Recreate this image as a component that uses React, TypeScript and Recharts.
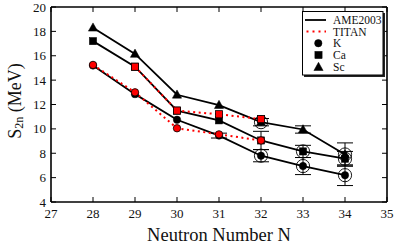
import React from "react";
import { ComposedChart, Line, XAxis, YAxis, ErrorBar, Legend } from "recharts";

// ---- data ----
const neutronNumbers = [28, 29, 30, 31, 32, 33, 34];
const ameK = [15.2, 12.85, 10.75, 9.45, 7.8, 6.95, 6.2];
const ameKErr = [0, 0, 0, 0.2, 0.5, 0.7, 0.85];
const ameKExtrapolated = [false, false, false, false, true, true, true];
const ameCa = [17.2, 15.1, 11.5, 10.7, 9.05, 8.15, 7.55];
const ameCaErr = [0, 0, 0, 0, 0.75, 0.5, 0.6];
const ameCaExtrapolated = [false, false, false, false, false, true, true];
const ameSc = [18.3, 16.15, 12.8, 11.95, 10.55, 9.95, 7.9];
const ameScErr = [0, 0, 0, 0, 0.3, 0.3, 0.95];
const ameScExtrapolated = [false, false, false, false, true, false, true];

const titanKN = [28, 29, 30, 31, 32];
const titanK = [15.25, 13.0, 10.05, 9.55, 9.05];
const titanCaN = [29, 30, 31, 32];
const titanCa = [15.1, 11.5, 11.2, 10.8];

const xTicks = [27, 28, 29, 30, 31, 32, 33, 34, 35];
const yTicks = [4, 6, 8, 10, 12, 14, 16, 18, 20];

const legendItems = ["AME2003", "TITAN", "K", "Ca", "Sc"];

const build = (ns: number[], ys: number[], errs?: number[], ext?: boolean[]) =>
  ns.map((n, i) => ({ n, y: ys[i], err: errs ? errs[i] : 0, ext: ext ? ext[i] : false }));

const dataK = build(neutronNumbers, ameK, ameKErr, ameKExtrapolated);
const dataCa = build(neutronNumbers, ameCa, ameCaErr, ameCaExtrapolated);
const dataSc = build(neutronNumbers, ameSc, ameScErr, ameScExtrapolated);
const dataTK = build(titanKN, titanK);
const dataTCa = build(titanCaN, titanCa);

const SERIF = "Liberation Serif";
const RED = "#ff0000";

type Shape = "circle" | "square" | "triangle";

const marker = (shape: Shape, cx: number, cy: number, fill: string, stroke: string, sw: number) => {
  if (shape === "circle") return <circle cx={cx} cy={cy} r={3.7} fill={fill} stroke={stroke} strokeWidth={sw} />;
  if (shape === "square")
    return <rect x={cx - 3.6} y={cy - 3.6} width={7.2} height={7.2} fill={fill} stroke={stroke} strokeWidth={sw} />;
  return (
    <path
      d={`M${cx},${cy - 4.8} L${cx - 4.6},${cy + 3.4} L${cx + 4.6},${cy + 3.4} Z`}
      fill={fill}
      stroke={stroke}
      strokeWidth={sw}
    />
  );
};

const makeDot = (shape: Shape, fill: string) => (p: any) => {
  const { cx, cy, payload, index } = p;
  if (cx == null || cy == null) return <g key={`d${index}`} />;
  return (
    <g key={`d${index}`}>
      {marker(shape, cx, cy, fill, "#000", fill === "#000" ? 0.5 : 0.8)}
      {payload && payload.ext ? <circle cx={cx} cy={cy} r={6.6} fill="none" stroke="#000" strokeWidth={0.9} /> : null}
    </g>
  );
};

const BottomTick = (p: any) => {
  const { x, y, payload } = p;
  const ay = y - 7;
  return (
    <g>
      <line x1={x} x2={x} y1={ay} y2={ay - 5} stroke="#000" strokeWidth={1} />
      <text x={x} y={ay + 16} textAnchor="middle" className="serif-text" style={{ fontFamily: SERIF, fontSize: 13 }} fill="#111">
        {payload.value}
      </text>
    </g>
  );
};

const LeftTick = (p: any) => {
  const { x, y, payload } = p;
  const ax = x + 7;
  return (
    <g>
      <line x1={ax} x2={ax + 5} y1={y} y2={y} stroke="#000" strokeWidth={1} />
      <text x={ax - 5} y={y + 4.5} textAnchor="end" className="serif-text" style={{ fontFamily: SERIF, fontSize: 13 }} fill="#111">
        {payload.value}
      </text>
    </g>
  );
};

const TopTick = (p: any) => {
  const { x, y } = p;
  const ay = y + 7;
  return <line x1={x} x2={x} y1={ay} y2={ay + 5} stroke="#000" strokeWidth={1} />;
};

const RightTick = (p: any) => {
  const { x, y } = p;
  const ax = x - 7;
  return <line x1={ax} x2={ax - 5} y1={y} y2={y} stroke="#000" strokeWidth={1} />;
};

const LEG_L = 298;
const LEG_T = 8;

const LegendBox = () => {
  const ox = -LEG_L;
  const oy = -LEG_T;
  const rows = [20, 31.5, 43.2, 55, 66.6];
  return (
    <svg width={92} height={74} style={{ display: "block" }}>
      <g transform={`translate(${ox},${oy})`}>
        <rect x={304} y={13} width={81} height={64} fill="#222" />
        <rect x={302.5} y={11.5} width={80.5} height={63.5} fill="#fff" stroke="#000" strokeWidth={1} />
        <line x1={305} x2={326} y1={rows[0]} y2={rows[0]} stroke="#000" strokeWidth={1.8} />
        <line x1={306.5} x2={326} y1={rows[1]} y2={rows[1]} stroke={RED} strokeWidth={2} strokeDasharray="2 4" />
        {marker("circle", 318.3, rows[2], "#000", "#000", 0.5)}
        {marker("square", 318.5, rows[3], "#000", "#000", 0.5)}
        {marker("triangle", 318.5, rows[4] + 0.5, "#000", "#000", 0.5)}
        {legendItems.map((t, i) => (
          <text key={t} x={333} y={rows[i] + 4} className="serif-text" style={{ fontFamily: SERIF, fontSize: 11.5 }} fill="#111">
            {t}
          </text>
        ))}
      </g>
    </svg>
  );
};

const XLabel = (p: any) => {
  const vb = p.viewBox || { x: 51, y: 202, width: 336, height: 30 };
  return (
    <text x={vb.x + vb.width / 2} y={241} textAnchor="middle" className="serif-text" style={{ fontFamily: SERIF, fontSize: 18.5 }} fill="#111">
      Neutron Number N
    </text>
  );
};

const YLabel = () => {
  const cx = 15;
  const cy = 101;
  return (
    <text
      x={cx}
      y={cy}
      transform={`rotate(-90, ${cx}, ${cy})`}
      textAnchor="middle"
      dominantBaseline="central"
      className="serif-text"
      style={{ fontFamily: SERIF, fontSize: 18 }}
      fill="#111"
    >
      S
      <tspan dy={4} style={{ fontSize: 12 }}>
        2n
      </tspan>
      <tspan dy={-4}> (MeV)</tspan>
    </text>
  );
};

const CSS =
  "#root .chart-box svg text.serif-text, #root .chart-box svg text.serif-text tspan { font-family: 'Liberation Serif', serif !important; }";

export default function App() {
  return (
    <div className="chart-box" style={{ position: "absolute", left: 0, top: 0, width: 399, height: 247, background: "#fff" }}>
      <style>{CSS}</style>
      <ComposedChart width={399} height={247} margin={{ top: 6, right: 11, bottom: 15, left: 11 }}>
        <XAxis
          xAxisId="x"
          dataKey="n"
          type="number"
          domain={[27, 35]}
          ticks={xTicks}
          interval={0}
          allowDataOverflow
          height={30}
          tickSize={5}
          tickMargin={2}
          tickLine={false}
          tick={<BottomTick />}
          axisLine={{ stroke: "#000", strokeWidth: 1.6 }}
          label={<XLabel />}
        />
        <XAxis
          xAxisId="top"
          orientation="top"
          dataKey="n"
          type="number"
          domain={[27, 35]}
          ticks={xTicks}
          interval={0}
          allowDataOverflow
          height={1}
          tickSize={5}
          tickMargin={2}
          tickLine={false}
          tick={<TopTick />}
          axisLine={{ stroke: "#000", strokeWidth: 1.6 }}
        />
        <YAxis
          yAxisId="y"
          dataKey="y"
          type="number"
          domain={[4, 20]}
          ticks={yTicks}
          interval={0}
          allowDataOverflow
          width={40}
          tickSize={5}
          tickMargin={2}
          tickLine={false}
          tick={<LeftTick />}
          axisLine={{ stroke: "#000", strokeWidth: 1.6 }}
          label={<YLabel />}
        />
        <YAxis
          yAxisId="right"
          orientation="right"
          dataKey="y"
          type="number"
          domain={[4, 20]}
          ticks={yTicks}
          interval={0}
          allowDataOverflow
          width={1}
          tickSize={5}
          tickMargin={2}
          tickLine={false}
          tick={<RightTick />}
          axisLine={{ stroke: "#000", strokeWidth: 1.6 }}
        />
        <Legend
          layout="vertical"
          align="center"
          verticalAlign="middle"
          content={<LegendBox />}
          wrapperStyle={{ position: "absolute", left: LEG_L, top: LEG_T, width: 92, height: 74 }}
        />
        <Line xAxisId="x" yAxisId="y" data={dataK} dataKey="y" stroke="#000" strokeWidth={1.8}
          dot={makeDot("circle", "#000")} isAnimationActive={false} legendType="none">
          <ErrorBar dataKey="err" direction="y" width={8} stroke="#000" strokeWidth={1} />
        </Line>
        <Line xAxisId="x" yAxisId="y" data={dataCa} dataKey="y" stroke="#000" strokeWidth={1.8}
          dot={makeDot("square", "#000")} isAnimationActive={false} legendType="none">
          <ErrorBar dataKey="err" direction="y" width={8} stroke="#000" strokeWidth={1} />
        </Line>
        <Line xAxisId="x" yAxisId="y" data={dataSc} dataKey="y" stroke="#000" strokeWidth={1.8}
          dot={makeDot("triangle", "#000")} isAnimationActive={false} legendType="none">
          <ErrorBar dataKey="err" direction="y" width={8} stroke="#000" strokeWidth={1} />
        </Line>
        <Line xAxisId="x" yAxisId="y" data={dataTK} dataKey="y" stroke={RED} strokeWidth={2}
          strokeDasharray="2 3.5" dot={makeDot("circle", RED)} isAnimationActive={false} legendType="none" />
        <Line xAxisId="x" yAxisId="y" data={dataTCa} dataKey="y" stroke={RED} strokeWidth={2}
          strokeDasharray="2 3.5" dot={makeDot("square", RED)} isAnimationActive={false} legendType="none" />
      </ComposedChart>
    </div>
  );
}
